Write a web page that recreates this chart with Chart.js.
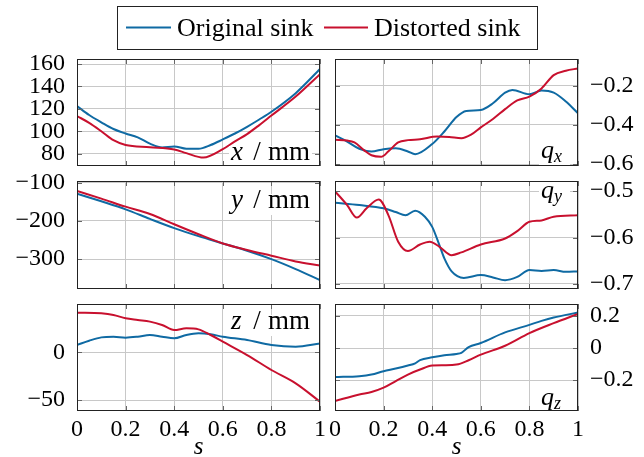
<!DOCTYPE html>
<html>
<head>
<meta charset="utf-8">
<title>Original vs distorted sink</title>
<script src="https://cdn.jsdelivr.net/npm/chart.js@4.4.0/dist/chart.umd.min.js"></script>
<style>
  html, body { margin: 0; padding: 0; background: #fff; }
  #wrap { position: relative; width: 644px; height: 457px; }
  #wrap canvas { position: absolute; left: 0; top: 0; }
</style>
</head>
<body>
<div id="wrap">
  <canvas id="px" width="644" height="457"></canvas>
  <canvas id="pqx" width="644" height="457"></canvas>
  <canvas id="py" width="644" height="457"></canvas>
  <canvas id="pqy" width="644" height="457"></canvas>
  <canvas id="pz" width="644" height="457"></canvas>
  <canvas id="pqz" width="644" height="457"></canvas>
</div>
<script>
// shared x axis (path parameter s)
const sTicks = [0, 0.2, 0.4, 0.6, 0.8, 1];

// x / mm
const xOrigS = [0, 0.05, 0.1, 0.15, 0.2, 0.25, 0.3, 0.35, 0.4, 0.45, 0.5, 0.55, 0.6, 0.65, 0.7, 0.75, 0.8, 0.9, 1];
const xOrigV = [122.5, 114.5, 108, 102, 98, 94.5, 89, 85.6, 86.5, 84.4, 84.4, 87.7, 92.7, 98, 104, 110.5, 117.4, 134, 155.5];
const xDistS = [0, 0.05, 0.1, 0.15, 0.2, 0.3, 0.4, 0.45, 0.52, 0.6, 0.65, 0.7, 0.75, 0.8, 0.9, 1];
const xDistV = [113.6, 107.5, 100, 92, 87.7, 85.8, 83.8, 80.5, 76.5, 84, 91, 97.5, 105.5, 114, 131, 151];
const xTicks = [80, 100, 120, 140, 160];

// q_x
const qxOrigS = [0, 0.05, 0.1, 0.15, 0.2, 0.25, 0.3, 0.33, 0.4, 0.45, 0.5, 0.54, 0.6, 0.65, 0.7, 0.73, 0.8, 0.85, 0.9, 0.95, 1];
const qxOrigV = [-0.454, -0.485, -0.522, -0.536, -0.524, -0.52, -0.536, -0.55, -0.498, -0.434, -0.36, -0.329, -0.324, -0.29, -0.236, -0.222, -0.244, -0.225, -0.236, -0.281, -0.341];
const qxDistS = [0, 0.05, 0.08, 0.12, 0.15, 0.19, 0.22, 0.26, 0.3, 0.35, 0.42, 0.47, 0.52, 0.56, 0.6, 0.65, 0.7, 0.75, 0.8, 0.85, 0.9, 0.95, 1];
const qxDistV = [-0.476, -0.48, -0.49, -0.53, -0.555, -0.563, -0.535, -0.49, -0.478, -0.474, -0.46, -0.462, -0.468, -0.45, -0.413, -0.37, -0.32, -0.275, -0.256, -0.214, -0.146, -0.124, -0.112];
const qxTicks = [-0.6, -0.4, -0.2];

// y / mm
const yOrigS = [0, 0.1, 0.2, 0.3, 0.4, 0.5, 0.6, 0.7, 0.8, 0.9, 1];
const yOrigV = [-129, -149, -170, -195, -219, -240, -259, -278, -300, -326, -355];
const yDistS = [0, 0.1, 0.2, 0.3, 0.4, 0.5, 0.6, 0.7, 0.8, 0.9, 1];
const yDistV = [-122, -142, -163, -182, -209, -235, -259, -276, -291, -306, -317];
const yTicks = [-300, -200, -100];

// q_y
const qyOrigS = [0, 0.1, 0.2, 0.25, 0.29, 0.33, 0.37, 0.4, 0.43, 0.45, 0.48, 0.53, 0.6, 0.65, 0.7, 0.75, 0.8, 0.85, 0.9, 0.95, 1];
const qyOrigV = [-0.525, -0.53, -0.537, -0.545, -0.552, -0.542, -0.555, -0.577, -0.617, -0.645, -0.673, -0.687, -0.681, -0.686, -0.692, -0.685, -0.67, -0.672, -0.67, -0.674, -0.673];
const qyDistS = [0, 0.05, 0.09, 0.13, 0.18, 0.22, 0.26, 0.3, 0.35, 0.39, 0.43, 0.48, 0.52, 0.6, 0.7, 0.75, 0.8, 0.85, 0.9, 1];
const qyDistV = [-0.5, -0.53, -0.557, -0.537, -0.518, -0.552, -0.609, -0.629, -0.615, -0.609, -0.62, -0.638, -0.632, -0.615, -0.602, -0.586, -0.566, -0.563, -0.555, -0.552];
const qyTicks = [-0.7, -0.6, -0.5];

// z / mm
const zOrigS = [0, 0.05, 0.1, 0.15, 0.2, 0.25, 0.3, 0.35, 0.4, 0.45, 0.5, 0.55, 0.6, 0.7, 0.8, 0.9, 1];
const zOrigV = [7.7, 12.2, 15.7, 16.4, 15.4, 16.4, 18.2, 16.4, 14.7, 18.2, 19.9, 18.9, 16.4, 12.9, 7.7, 5.9, 9.4];
const zDistS = [0, 0.1, 0.15, 0.2, 0.25, 0.3, 0.35, 0.4, 0.45, 0.5, 0.55, 0.6, 0.7, 0.8, 0.9, 1];
const zDistV = [41.6, 40.9, 39.2, 35.7, 33.9, 32.2, 28.7, 23.4, 25.2, 24.1, 18.2, 11.2, -2.8, -18.5, -32.5, -51.7];
const zTicks = [-50, 0];

// q_z
const qzOrigS = [0, 0.1, 0.15, 0.2, 0.25, 0.3, 0.33, 0.35, 0.4, 0.45, 0.5, 0.52, 0.55, 0.6, 0.7, 0.8, 0.85, 0.9, 1];
const qzOrigV = [-0.181, -0.175, -0.165, -0.144, -0.128, -0.109, -0.095, -0.075, -0.058, -0.045, -0.037, -0.03, 0.006, 0.031, 0.097, 0.144, 0.169, 0.19, 0.221];
const qzDistS = [0, 0.1, 0.15, 0.2, 0.25, 0.3, 0.35, 0.4, 0.45, 0.5, 0.55, 0.6, 0.7, 0.8, 0.9, 1];
const qzDistV = [-0.33, -0.289, -0.274, -0.247, -0.206, -0.165, -0.134, -0.109, -0.107, -0.103, -0.076, -0.041, 0.014, 0.093, 0.155, 0.212];
const qzTicks = [-0.2, 0, 0.2];

const seriesNames = ['Original sink', 'Distorted sink'];

const blue = '#0f6aa3';
const red = '#c8102e';
const gridColor = '#c8c8c8';
const serif = '"Liberation Serif", "Times New Roman", serif';

// plot boxes (page pixels)
const colLeft = [77, 335];
const colRight = [320, 578];
const rowTop = [59, 181, 304];
const rowBottom = [166, 289, 411];

function pts(s, v) {
  return s.map((x, i) => ({ x: x, y: v[i] }));
}

function fmt(v) {
  const n = +Number(v).toFixed(3);
  return (n < 0 ? '\u2212' : '') + String(Math.abs(n));
}

function fixedTicks(vals) {
  return function(scale) {
    scale.ticks = vals.map(v => ({ value: v }));
  };
}

// panel label: "sym / mm" or q with subscript
function drawLabel(ctx, a, lab) {
  const R = a.right;
  const base = lab.top ? a.top + lab.dy : a.bottom - lab.dy;
  ctx.textBaseline = 'alphabetic';
  if (lab.unit) {
    ctx.fillStyle = '#fff';
    ctx.fillRect(R - 91, base - 14, 83, 21);
    ctx.fillStyle = '#000';
    ctx.font = 'italic 27px ' + serif;
    ctx.textAlign = 'left';
    ctx.fillText(lab.sym, R - 89, base);
    ctx.font = '27px ' + serif;
    ctx.textAlign = 'center';
    ctx.fillText('/', R - 63, base);
    ctx.textAlign = 'right';
    ctx.fillText(lab.unit, R - 10, base);
  } else {
    ctx.fillStyle = '#fff';
    ctx.fillRect(R - 39, base - 13, 31, 22);
    ctx.fillStyle = '#000';
    ctx.font = 'italic 26px ' + serif;
    ctx.textAlign = 'left';
    ctx.fillText('q', R - 37, base);
    ctx.font = 'italic 18px ' + serif;
    ctx.fillText(lab.sub, R - 24, base + 4);
  }
}

// axis box, inward tick marks and the panel label
const framePlugin = {
  id: 'frame',
  afterDraw(chart) {
    const ctx = chart.ctx, a = chart.chartArea;
    const xs = chart.scales.x, ys = chart.scales.y;
    ctx.save();
    ctx.strokeStyle = '#666';
    ctx.lineWidth = 1;
    ctx.beginPath();
    ys.ticks.forEach(t => {
      const p = Math.round(ys.getPixelForValue(t.value)) + 0.5;
      ctx.moveTo(a.left, p); ctx.lineTo(a.left + 5, p);
      ctx.moveTo(a.right - 5, p); ctx.lineTo(a.right, p);
    });
    xs.ticks.forEach(t => {
      const p = Math.round(xs.getPixelForValue(t.value)) + 0.5;
      ctx.moveTo(p, a.top); ctx.lineTo(p, a.top + 5);
      ctx.moveTo(p, a.bottom - 5); ctx.lineTo(p, a.bottom);
    });
    ctx.stroke();
    const lab = chart.options.plugins.frame.label;
    if (lab) drawLabel(ctx, a, lab);
    ctx.strokeStyle = '#222';
    ctx.strokeRect(Math.round(a.left) + 0.5, Math.round(a.top) + 0.5,
      Math.round(a.right - a.left) - 1, Math.round(a.bottom - a.top) - 1);
    ctx.restore();
  }
};

// shared legend above both columns
const legendPlugin = {
  id: 'legendBox',
  afterDraw(chart) {
    const ctx = chart.ctx;
    ctx.save();
    ctx.strokeStyle = '#222';
    ctx.lineWidth = 1;
    ctx.strokeRect(117.5, 6.5, 420, 43);
    ctx.lineWidth = 2;
    ctx.strokeStyle = blue;
    ctx.beginPath(); ctx.moveTo(126, 27.5); ctx.lineTo(171, 27.5); ctx.stroke();
    ctx.strokeStyle = red;
    ctx.beginPath(); ctx.moveTo(324, 27.5); ctx.lineTo(368, 27.5); ctx.stroke();
    ctx.fillStyle = '#000';
    ctx.font = '26px ' + serif;
    ctx.textAlign = 'left';
    ctx.textBaseline = 'alphabetic';
    ctx.fillText(seriesNames[0], 177, 35.5);
    ctx.fillText(seriesNames[1], 374, 35.5);
    ctx.restore();
  }
};

function panel(id, o) {
  const col = o.col, row = o.row;
  const L = colLeft[col], R = colRight[col];
  const T = rowTop[row], B = rowBottom[row];
  const showX = row === 2;
  const yW = col === 0 ? 70 : 66;
  const xH = showX ? 46 : 0;
  const padding = col === 0
    ? { left: L - yW, right: 644 - R, top: T, bottom: 457 - B - xH }
    : { left: L, right: 644 - R - yW, top: T, bottom: 457 - B - xH };
  const tickFont = { family: serif, size: 24 };

  new Chart(document.getElementById(id), {
    type: 'line',
    data: {
      datasets: [{
        label: seriesNames[0],
        data: pts(o.origS, o.origV),
        borderColor: blue,
        borderWidth: 2,
        pointRadius: 0,
        cubicInterpolationMode: 'monotone',
        clip: 0,
        order: 1
      }, {
        label: seriesNames[1],
        data: pts(o.distS, o.distV),
        borderColor: red,
        borderWidth: 2,
        pointRadius: 0,
        cubicInterpolationMode: 'monotone',
        clip: 0,
        order: 0
      }]
    },
    options: {
      responsive: false,
      animation: false,
      events: [],
      layout: { padding: padding },
      plugins: {
        legend: { display: false },
        tooltip: { enabled: false },
        frame: { label: o.label }
      },
      scales: {
        x: {
          type: 'linear',
          min: 0,
          max: 1,
          afterBuildTicks: fixedTicks(sTicks),
          afterFit: function(scale) { scale.height = xH; },
          grid: { color: gridColor, drawTicks: false },
          border: { display: false },
          ticks: {
            display: showX,
            padding: 4,
            maxRotation: 0,
            autoSkip: false,
            color: '#000',
            font: tickFont,
            callback: fmt
          },
          title: {
            display: showX,
            text: 's',
            color: '#000',
            padding: 0,
            font: { family: serif, size: 25, style: 'italic', lineHeight: 0.75 }
          }
        },
        y: {
          type: 'linear',
          position: col === 0 ? 'left' : 'right',
          min: o.yMin,
          max: o.yMax,
          afterBuildTicks: fixedTicks(o.yTicks),
          afterFit: function(scale) { scale.width = yW; },
          grid: { color: gridColor, drawTicks: false },
          border: { display: false },
          ticks: {
            padding: 12,
            autoSkip: false,
            color: '#000',
            font: tickFont,
            callback: fmt
          }
        }
      }
    },
    plugins: id === 'px' ? [framePlugin, legendPlugin] : [framePlugin]
  });
}

panel('px', { col: 0, row: 0, yMin: 69, yMax: 164.5, yTicks: xTicks,
  origS: xOrigS, origV: xOrigV, distS: xDistS, distV: xDistV,
  label: { sym: 'x', unit: 'mm', top: false, dy: 6 } });
panel('pqx', { col: 1, row: 0, yMin: -0.61, yMax: -0.064, yTicks: qxTicks,
  origS: qxOrigS, origV: qxOrigV, distS: qxDistS, distV: qxDistV,
  label: { sub: 'x', top: false, dy: 8 } });
panel('py', { col: 0, row: 1, yMin: -378, yMax: -96, yTicks: yTicks,
  origS: yOrigS, origV: yOrigV, distS: yDistS, distV: yDistV,
  label: { sym: 'y', unit: 'mm', top: true, dy: 27 } });
panel('pqy', { col: 1, row: 1, yMin: -0.711, yMax: -0.478, yTicks: qyTicks,
  origS: qyOrigS, origV: qyOrigV, distS: qyDistS, distV: qyDistV,
  label: { sub: 'y', top: true, dy: 17 } });
panel('pz', { col: 0, row: 2, yMin: -61.5, yMax: 50.7, yTicks: zTicks,
  origS: zOrigS, origV: zOrigV, distS: zDistS, distV: zDistV,
  label: { sym: 'z', unit: 'mm', top: true, dy: 25 } });
panel('pqz', { col: 1, row: 2, yMin: -0.392, yMax: 0.274, yTicks: qzTicks,
  origS: qzOrigS, origV: qzOrigV, distS: qzDistS, distV: qzDistV,
  label: { sub: 'z', top: false, dy: 6 } });
</script>
</body>
</html>
